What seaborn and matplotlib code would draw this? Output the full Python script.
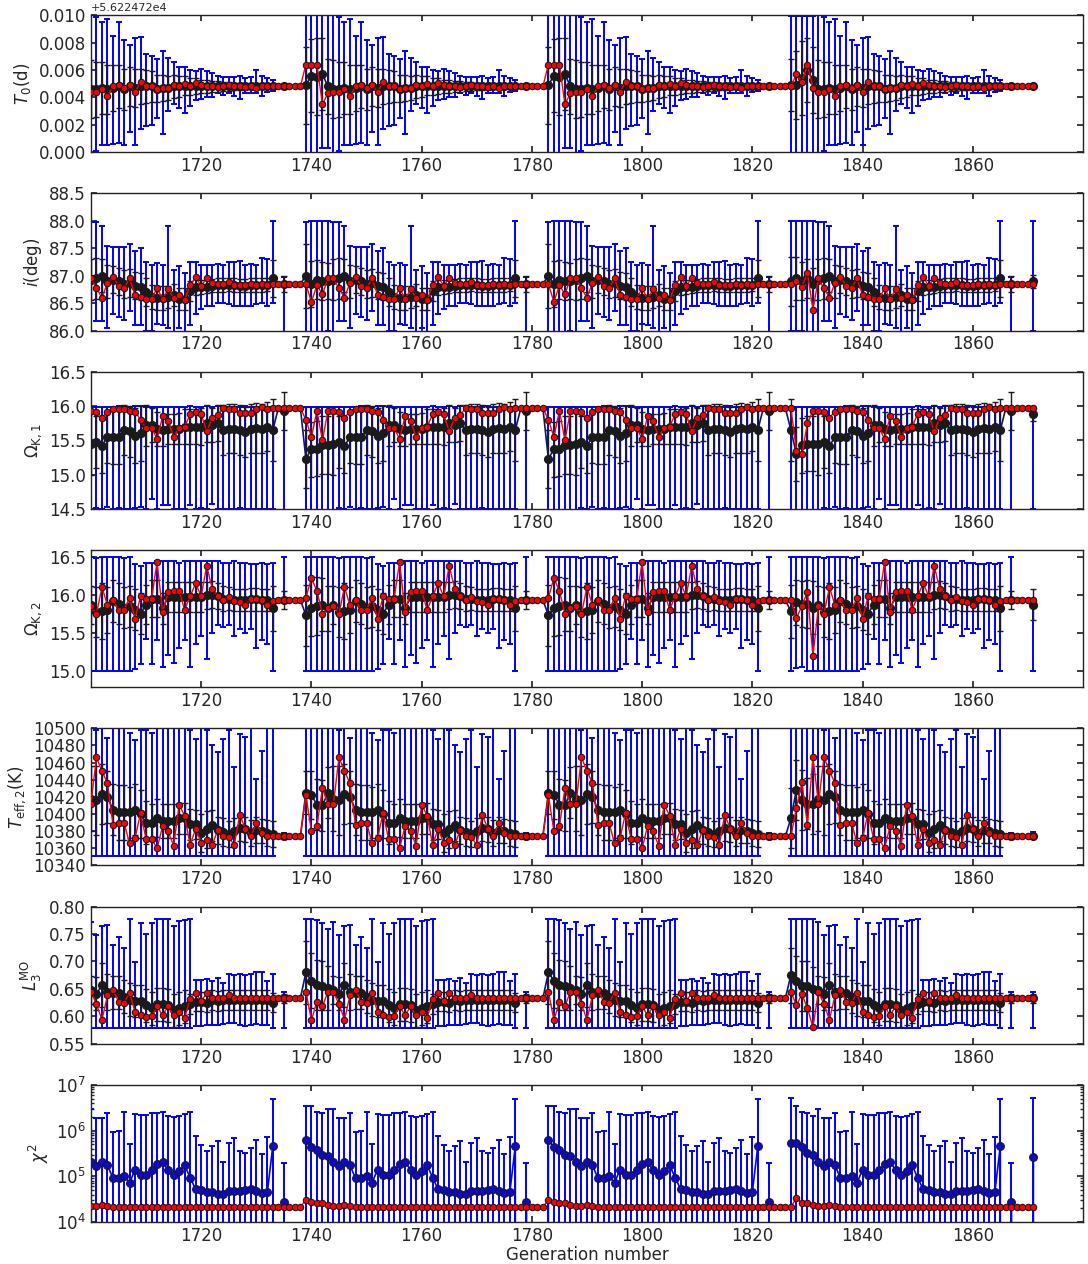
import numpy as np
import matplotlib
matplotlib.use("Agg")
import matplotlib.pyplot as plt
from matplotlib.ticker import ScalarFormatter
import seaborn as sns

nan = np.nan

# ---------------------------------------------------------------------------
# Generations: the optimiser is restarted at 1739, 1783 and 1827.  Every run
# is 44 generations long; the first run is shown from generation 1700 on.
# "late" = generations 5..43 of a run, "early_a" = generations 0..4 of the
# runs started at 1739/1783, "early_b" = generations 0..4 of the 1827 run,
# "end" = generation 1871.
# For every parameter: best = best individual, mean/sd = population mean and
# standard deviation, lo/hi = population minimum / maximum.
# ---------------------------------------------------------------------------
first_gen = 1700
last_gen = 1871

# T0 in units of 1e-3 d above t0_ref
t0_ref = 56224.72
t0_late_best = [4.4, 4.4, 4.6, 4.1,
                4.8, 4.9, 4.7, 4.9, 4.4, 5.1, 4.85, 4.8, 4.6, 4.7,
                4.7, 4.9, 4.8, 5.0, 4.8, 5.05, 4.9, 4.8, 4.8, 4.75,
                4.8, 4.9, 4.8, 4.8, 4.75, 4.8, 4.7, 4.8, 4.8, 4.8,
                4.8, 4.8, 4.8, 4.8, 4.8]
t0_late_mean = [4.6, 4.6, 4.7, 4.6,
                4.7, 4.8, 4.6, 4.8, 4.7, 4.8, 4.8, 4.8, 4.65, 4.7,
                4.7, 4.8, 4.8, 4.85, 4.8, 4.85, 4.8, 4.8, 4.8, 4.8,
                4.8, 4.8, 4.8, 4.8, 4.8, 4.8, 4.8, 4.8, 4.8, 4.8,
                nan, 4.8, nan, nan, nan]
t0_late_sd = [2.1, 2.0, 1.9, 1.8,
              1.7, 1.6, 1.5, 1.45, 1.4, 1.3, 1.2, 1.1, 1.0, 0.95,
              0.9, 0.85, 0.8, 0.7, 0.65, 0.6, 0.5, 0.45, 0.42, 0.4,
              0.36, 0.3, 0.28, 0.25, 0.22, 0.2, 0.18, 0.16, 0.14, 0.12,
              nan, 0.04, nan, nan, nan]
t0_late_lo = [-0.2, 0.1, 0.5, 0.5,
              0.6, 0.7, 0.5, 1.5, 0.5, 1.7, 1.9, 2.0, 2.5, 1.3,
              3.0, 3.5, 3.2, 2.9, 3.4, 3.8, 3.9, 4.0, 4.0, 4.3,
              4.2, 4.3, 4.1, 3.9, 4.3, 4.3, 4.3, 4.1, 4.4, 4.5,
              nan, 4.75, nan, nan, nan]
t0_late_hi = [10.2, 9.9, 9.5, 9.7,
              8.5, 9.5, 8.2, 7.8, 8.3, 8.4, 7.2, 7.0, 6.8, 7.4,
              6.9, 6.6, 6.2, 6.2, 6.0, 5.9, 6.1, 5.9, 5.8, 5.6,
              5.5, 5.5, 5.5, 5.6, 5.4, 5.5, 6.0, 5.6, 5.4, 5.3,
              nan, 4.85, nan, nan, nan]
t0_early_a_best = [6.4, 6.4, 6.4, 3.5, 4.3]
t0_early_a_mean = [4.9, 5.6, 5.5, 5.7, 4.8]
t0_early_a_sd = [2.8, 2.65, 2.8, 2.6, 2.0]
t0_early_a_lo = [-0.5, -0.5, -0.5, 0.3, 0.3]
t0_early_a_hi = [10.5, 10.5, 10.5, 10.3, 10.0]
t0_early_b_best = [4.8, 5.7, 5.1, 6.4, 4.7]
t0_early_b_mean = [4.9, 4.9, 5.4, 6.0, 5.3]
t0_early_b_sd = [1.9, 2.5, 2.7, 2.3, 2.4]
t0_early_b_lo = [-0.5, -0.5, -0.5, -0.5, -0.5]
t0_early_b_hi = [9.95, 9.95, 9.95, 9.95, 9.95]
t0_end = dict(best=4.8, mean=4.8, sd=0.05, lo=4.75, hi=4.85)

# inclination (deg)
inc_late_best = [86.95, 86.77, 86.6, 86.87,
                 86.98, 86.82, 86.77, 86.95, 86.65, 86.62, 86.58, 86.58, 86.77, 86.58,
                 86.75, 86.6, 86.65, 86.55, 86.83, 86.97, 86.82, 86.95, 86.87, 86.85,
                 86.85, 86.88, 86.84, 86.83, 86.83, 86.85, 86.83, 86.85, 86.84, 86.85,
                 86.85, 86.85, 86.85, 86.85, 86.85]
inc_late_mean = [86.93, 86.95, 87.0, 86.9,
                 86.93, 86.9, 86.85, 86.87, 86.82, 86.8, 86.7, 86.62, 86.6, 86.6,
                 86.62, 86.65, 86.58, 86.57, 86.72, 86.8, 86.8, 86.8, 86.82, 86.83,
                 86.83, 86.84, 86.83, 86.82, 86.82, 86.83, 86.83, 86.83, 86.84, 86.95,
                 nan, 86.85, nan, nan, nan]
inc_late_sd = [0.38, 0.38, 0.3, 0.3,
               0.25, 0.25, 0.25, 0.25, 0.25, 0.25, 0.25, 0.22, 0.22, 0.22,
               0.2, 0.2, 0.2, 0.2, 0.18, 0.15, 0.13, 0.12, 0.12, 0.12,
               0.12, 0.12, 0.12, 0.12, 0.12, 0.12, 0.12, 0.12, 0.12, 0.33,
               nan, 0.14, nan, nan, nan]
inc_late_lo = [85.97, 86.18, 86.17, 86.05,
               86.3, 86.25, 86.2, 86.35, 86.1, 86.1, 86.0, 86.0, 86.12, 86.1,
               86.05, 85.98, 86.05, 85.98, 86.1, 86.3, 86.4, 86.45, 86.45, 86.5,
               86.5, 86.48, 86.45, 86.45, 86.45, 86.45, 86.48, 86.5, 86.45, 86.5,
               nan, 85.97, nan, nan, nan]
inc_late_hi = [87.98, 87.98, 87.9, 87.55,
               87.52, 87.52, 87.52, 87.57, 87.45, 87.5, 87.25, 87.2, 87.23, 87.2,
               87.9, 87.1, 87.17, 87.05, 87.25, 87.25, 87.2, 87.2, 87.2, 87.22,
               87.2, 87.25, 87.25, 87.27, 87.2, 87.22, 87.2, 87.32, 87.3, 88.0,
               nan, 86.97, nan, nan, nan]
inc_early_a_best = [86.85, 86.52, 86.83, 86.66, 86.95]
inc_early_a_mean = [87.0, 86.85, 86.93, 86.9, 86.9]
inc_early_a_sd = [0.58, 0.42, 0.35, 0.35, 0.33]
inc_early_a_lo = [85.98, 85.9, 85.9, 85.95, 86.0]
inc_early_a_hi = [87.98, 88.0, 88.0, 88.0, 88.0]
inc_early_b_best = [86.85, 86.9, 86.8, 87.05, 86.38]
inc_early_b_mean = [86.9, 86.95, 86.9, 86.95, 86.85]
inc_early_b_sd = [0.45, 0.4, 0.35, 0.35, 0.3]
inc_early_b_lo = [86.0, 86.0, 86.0, 85.95, 85.95]
inc_early_b_hi = [88.0, 88.0, 88.0, 88.0, 88.0]
inc_end = dict(best=86.85, mean=86.9, sd=0.12, lo=86.0, hi=88.0)

# Omega_K,1
om1_late_best = [15.93, 15.92, 15.83, 15.92,
                 15.96, 15.96, 15.96, 15.93, 15.92, 15.8, 15.68, 15.68, 15.52, 15.85,
                 15.78, 15.55, 15.68, 15.7, 15.88, 15.92, 15.88, 15.63, 15.82, 15.87,
                 15.97, 15.96, 15.95, 15.9, 15.9, 15.9, 15.95, 15.99, 15.95, 15.97,
                 15.97, 15.97, 15.97, 15.97, 15.97]
om1_late_mean = [15.45, 15.47, 15.42, 15.55,
                 15.55, 15.55, 15.65, 15.63, 15.57, 15.6, 15.72, 15.72, 15.66, 15.65,
                 15.67, 15.67, 15.67, 15.7, 15.7, 15.7, 15.7, 15.75, 15.72, 15.75,
                 15.65, 15.67, 15.67, 15.65, 15.62, 15.67, 15.68, 15.67, 15.7, 15.65,
                 nan, 15.93, nan, nan, nan]
om1_late_sd = [0.45, 0.38, 0.39, 0.38,
               0.4, 0.4, 0.37, 0.37, 0.4, 0.4, 0.3, 0.25, 0.25, 0.23,
               0.22, 0.22, 0.23, 0.25, 0.25, 0.25, 0.27, 0.27, 0.25, 0.26,
               0.36, 0.36, 0.36, 0.36, 0.36, 0.36, 0.36, 0.36, 0.36, 0.45,
               nan, 0.28, nan, nan, nan]
om1_late_lo = [14.45, 14.52, 14.5, 14.53,
               14.5, 14.52, 14.5, 14.5, 14.52, 14.53, 14.5, 14.65, 14.5, 14.55,
               14.55, 14.5, 14.5, 14.5, 14.55, 14.5, 14.52, 14.5, 14.57, 14.5,
               14.5, 14.5, 14.5, 14.52, 14.5, 14.5, 14.5, 14.5, 14.5, 14.5,
               nan, 14.45, nan, nan, nan]
om1_late_hi = [15.98, 15.98, 15.98, 15.98,
               15.99, 16.0, 16.0, 15.99, 16.0, 16.0, 15.99, 15.99, 15.98, 15.99,
               15.99, 15.99, 15.99, 15.98, 16.0, 15.99, 15.99, 16.0, 15.99, 16.0,
               15.99, 15.99, 15.99, 15.99, 16.0, 15.99, 15.99, 15.99, 15.99, 15.99,
               nan, 15.99, nan, nan, nan]
om1_early_a_best = [15.8, 15.55, 15.93, 15.5, 15.93]
om1_early_a_mean = [15.23, 15.37, 15.38, 15.43, 15.43]
om1_early_a_sd = [0.42, 0.4, 0.4, 0.42, 0.42]
om1_early_a_lo = [14.45, 14.45, 14.45, 14.45, 14.45]
om1_early_a_hi = [15.99, 15.99, 15.99, 15.99, 15.99]
om1_early_b_best = [15.97, 15.35, 15.3, 15.75, 15.93]
om1_early_b_mean = [15.65, 15.3, 15.43, 15.45, 15.45]
om1_early_b_sd = [0.45, 0.4, 0.4, 0.4, 0.4]
om1_early_b_lo = [14.45, 14.45, 14.45, 14.45, 14.45]
om1_early_b_hi = [15.99, 15.99, 15.99, 15.99, 15.99]
om1_end = dict(best=15.97, mean=15.88, sd=0.1, lo=14.5, hi=15.99)

# Omega_K,2
om2_late_best = [15.85, 15.75, 16.1, 15.86,
                 15.93, 15.8, 15.8, 15.96, 15.68, 15.98, 15.95, 15.95, 16.43, 15.77,
                 16.03, 16.05, 16.05, 15.8, 15.98, 16.15, 15.98, 16.38, 16.08, 15.98,
                 15.93, 15.97, 15.92, 15.9, 15.87, 15.94, 15.95, 15.93, 15.87, 15.92,
                 15.93, 15.93, 15.93, 15.93, 15.93]
om2_late_mean = [15.87, 15.77, 15.78, 15.8,
                 15.92, 15.88, 15.83, 15.85, 15.8, 15.75, 15.87, 15.95, 15.95, 15.82,
                 15.97, 15.97, 15.97, 15.97, 15.97, 15.97, 15.97, 15.99, 16.0, 15.98,
                 15.95, 15.95, 15.93, 15.93, 15.93, 15.94, 15.94, 15.93, 15.93, 15.82,
                 nan, 15.93, nan, nan, nan]
om2_late_sd = [0.25, 0.33, 0.37, 0.3,
               0.28, 0.27, 0.27, 0.27, 0.27, 0.27, 0.26, 0.25, 0.25, 0.2,
               0.2, 0.2, 0.2, 0.2, 0.2, 0.2, 0.2, 0.18, 0.18, 0.17,
               0.17, 0.15, 0.15, 0.15, 0.15, 0.15, 0.15, 0.15, 0.15, 0.3,
               nan, 0.12, nan, nan, nan]
om2_late_lo = [15.0, 15.0, 15.0, 15.0,
               15.0, 15.0, 15.0, 15.0, 15.02, 15.08, 15.42, 15.08, 15.4, 15.05,
               15.2, 15.1, 15.3, 15.4, 15.05, 15.35, 15.45, 15.15, 15.5, 15.6,
               15.58, 15.6, 15.45, 15.55, 15.5, 15.55, 15.3, 15.4, 15.35, 15.0,
               nan, 15.92, nan, nan, nan]
om2_late_hi = [16.5, 16.48, 16.5, 16.5,
               16.5, 16.5, 16.48, 16.5, 16.4, 16.38, 16.42, 16.42, 16.45, 16.45,
               16.45, 16.45, 16.42, 16.45, 16.45, 16.45, 16.45, 16.45, 16.45, 16.45,
               16.42, 16.42, 16.45, 16.42, 16.42, 16.4, 16.4, 16.42, 16.4, 16.42,
               nan, 16.5, nan, nan, nan]
om2_early_a_best = [15.96, 16.22, 16.05, 15.75, 15.82]
om2_early_a_mean = [15.73, 15.83, 15.85, 15.87, 15.82]
om2_early_a_sd = [0.4, 0.38, 0.38, 0.35, 0.3]
om2_early_a_lo = [15.0, 15.0, 15.0, 15.0, 15.0]
om2_early_a_hi = [16.5, 16.5, 16.5, 16.5, 16.5]
om2_early_b_best = [15.93, 15.69, 15.85, 16.04, 15.19]
om2_early_b_mean = [15.78, 15.9, 15.88, 15.88, 15.83]
om2_early_b_sd = [0.35, 0.3, 0.3, 0.32, 0.35]
om2_early_b_lo = [15.0, 15.03, 15.05, 15.0, 15.0]
om2_early_b_hi = [16.5, 16.5, 16.5, 16.5, 16.5]
om2_end = dict(best=15.93, mean=15.87, sd=0.2, lo=15.0, hi=15.93)

# T_eff,2 (K)
teff_late_best = [10412, 10466, 10450, 10436,
                  10387, 10390, 10390, 10366, 10372, 10401, 10371, 10371, 10360, 10386,
                  10380, 10363, 10411, 10398, 10364, 10383, 10366, 10370, 10364, 10381,
                  10374, 10373, 10364, 10399, 10383, 10374, 10389, 10378, 10374, 10374,
                  10374, 10374, 10374, 10374, 10374]
teff_late_mean = [10418, 10416, 10423, 10420,
                  10405, 10402, 10402, 10402, 10405, 10400, 10390, 10390, 10395, 10392,
                  10392, 10392, 10395, 10395, 10388, 10388, 10378, 10382, 10387, 10381,
                  10379, 10377, 10380, 10384, 10382, 10378, 10381, 10380, 10378, 10377,
                  nan, 10374, nan, nan, nan]
teff_late_sd = [38, 40, 35, 30,
                30, 32, 32, 30, 30, 28, 25, 22, 22, 20,
                20, 20, 18, 18, 18, 17, 22, 22, 18, 16,
                16, 15, 15, 15, 15, 15, 15, 14, 15, 15,
                nan, 3, nan, nan, nan]
teff_late_lo = [10351, 10351, 10351, 10351,
                10351, 10351, 10351, 10351, 10351, 10351, 10351, 10351, 10351, 10351,
                10351, 10351, 10351, 10351, 10351, 10351, 10351, 10351, 10351, 10351,
                10351, 10351, 10351, 10351, 10351, 10351, 10351, 10351, 10351, 10351,
                nan, 10374, nan, nan, nan]
teff_late_hi = [10500, 10498, 10500, 10489,
                10500, 10500, 10500, 10495, 10486, 10498, 10498, 10495, 10500, 10500,
                10500, 10500, 10500, 10500, 10498, 10488, 10500, 10498, 10480, 10472,
                10487, 10498, 10455, 10493, 10490, 10500, 10441, 10474, 10500, 10500,
                nan, 10378, nan, nan, nan]
teff_early_a_best = [10422, 10380, 10386, 10430, 10412]
teff_early_a_mean = [10425, 10422, 10411, 10410, 10425]
teff_early_a_sd = [25, 28, 30, 30, 30]
teff_early_a_lo = [10351, 10351, 10351, 10351, 10351]
teff_early_a_hi = [10500, 10500, 10500, 10500, 10500]
teff_early_b_best = [10374, 10407, 10437, 10387, 10467]
teff_early_b_mean = [10395, 10428, 10416, 10412, 10412]
teff_early_b_sd = [35, 35, 35, 30, 35]
teff_early_b_lo = [10351, 10351, 10351, 10351, 10351]
teff_early_b_hi = [10500, 10500, 10500, 10500, 10500]
teff_end = dict(best=10374, mean=10374, sd=2, lo=10374, hi=10379)

# L_3^MO
l3_late_best = [0.645, 0.622, 0.594, 0.638,
                0.648, 0.627, 0.624, 0.643, 0.608, 0.603, 0.599, 0.600, 0.618, 0.602,
                0.618, 0.602, 0.607, 0.597, 0.632, 0.643, 0.628, 0.642, 0.633, 0.633,
                0.633, 0.638, 0.633, 0.633, 0.634, 0.633, 0.633, 0.633, 0.633, 0.633,
                0.633, 0.633, 0.633, 0.633, 0.633]
l3_late_mean = [0.648, 0.641, 0.657, 0.645,
                0.643, 0.643, 0.636, 0.63, 0.628, 0.628, 0.62, 0.615, 0.622, 0.622,
                0.62, 0.611, 0.615, 0.618, 0.622, 0.627, 0.627, 0.625, 0.63, 0.628,
                0.63, 0.63, 0.63, 0.63, 0.63, 0.63, 0.63, 0.63, 0.63, 0.625,
                nan, 0.633, nan, nan, nan]
l3_late_sd = [0.025, 0.03, 0.04, 0.033,
              0.03, 0.03, 0.03, 0.03, 0.03, 0.03, 0.03, 0.03, 0.03, 0.03,
              0.03, 0.03, 0.03, 0.03, 0.018, 0.018, 0.018, 0.018, 0.018, 0.018,
              0.018, 0.018, 0.018, 0.018, 0.018, 0.018, 0.018, 0.018, 0.018, 0.018,
              nan, 0.008, nan, nan, nan]
l3_late_lo = [0.578, 0.578, 0.578, 0.578,
              0.578, 0.578, 0.578, 0.578, 0.578, 0.578, 0.578, 0.578, 0.578, 0.578,
              0.578, 0.578, 0.578, 0.578, 0.578, 0.583, 0.582, 0.585, 0.585, 0.585,
              0.586, 0.588, 0.588, 0.585, 0.583, 0.585, 0.586, 0.585, 0.585, 0.578,
              nan, 0.578, nan, nan, nan]
l3_late_hi = [0.772, 0.749, 0.765, 0.767,
              0.73, 0.744, 0.725, 0.778, 0.699, 0.771, 0.75, 0.77, 0.778, 0.778,
              0.778, 0.765, 0.773, 0.775, 0.778, 0.666, 0.667, 0.668, 0.665, 0.67,
              0.66, 0.677, 0.676, 0.677, 0.675, 0.678, 0.68, 0.68, 0.665, 0.678,
              nan, 0.645, nan, nan, nan]
l3_early_a_best = [0.645, 0.593, 0.627, 0.618, 0.645]
l3_early_a_mean = [0.68, 0.665, 0.657, 0.656, 0.652]
l3_early_a_sd = [0.057, 0.05, 0.045, 0.045, 0.04]
l3_early_a_lo = [0.578, 0.578, 0.578, 0.578, 0.578]
l3_early_a_hi = [0.778, 0.778, 0.775, 0.77, 0.76]
l3_early_b_best = [0.645, 0.62, 0.64, 0.615, 0.58]
l3_early_b_mean = [0.675, 0.665, 0.655, 0.655, 0.65]
l3_early_b_sd = [0.05, 0.045, 0.045, 0.045, 0.04]
l3_early_b_lo = [0.578, 0.578, 0.578, 0.578, 0.578]
l3_early_b_hi = [0.778, 0.778, 0.778, 0.778, 0.778]
l3_end = dict(best=0.633, mean=0.633, sd=0.008, lo=0.578, hi=0.645)

# chi^2: best individual, population mean and mean + sd
chi_late_best = [2.2e4, 2.2e4, 2.4e4, 2.2e4,
                 2.1e4, 2.1e4, 2.1e4, 2.1e4, 2.1e4, 2.1e4, 2.1e4, 2.1e4, 2.1e4, 2.1e4,
                 2.1e4, 2.1e4, 2.1e4, 2.1e4, 2.1e4, 2.1e4, 2.1e4, 2.1e4, 2.1e4, 2.1e4,
                 2.1e4, 2.1e4, 2.1e4, 2.1e4, 2.1e4, 2.1e4, 2.1e4, 2.1e4, 2.1e4, 2.1e4,
                 2.1e4, 2.1e4, 2.1e4, 2.1e4, 2.1e4]
chi_late_mean = [2.1e5, 1.7e5, 2.1e5, 1.75e5,
                 9.0e4, 9.0e4, 1.0e5, 7.2e4, 1.4e5, 1.05e5, 1.05e5, 1.35e5, 1.85e5, 2.1e5,
                 1.35e5, 1.05e5, 1.3e5, 1.75e5, 9.3e4, 5.2e4, 4.9e4, 4.5e4, 4.6e4, 4.2e4,
                 4.1e4, 4.7e4, 4.8e4, 4.7e4, 4.9e4, 5.2e4, 4.8e4, 4.4e4, 4.5e4, 4.6e5,
                 0.0, 2.75e4, 0.0, 0.0, 0.0]
chi_late_hi = [3.0e6, 1.9e6, 1.9e6, 2.4e6,
               9.1e5, 1.0e6, 2.5e6, 5.2e5, 2.3e6, 2.2e6, 2.2e6, 2.4e6, 2.4e6, 2.6e6,
               2.1e6, 2.0e6, 2.1e6, 2.3e6, 2.5e6, 7.8e5, 4.8e5, 3.6e5, 4.6e5, 5.8e5,
               2.1e5, 5.4e5, 6.9e5, 3.5e5, 3.2e5, 4.1e5, 6.2e5, 3.1e5, 7.1e5, 4.9e6,
               nan, 1.95e5, nan, nan, nan]
chi_early_a_best = [3.1e4, 2.8e4, 2.6e4, 2.6e4, 2.35e4]
chi_early_a_mean = [6.2e5, 4.3e5, 3.7e5, 3.0e5, 2.8e5]
chi_early_a_hi = [3.5e6, 3.5e6, 2.6e6, 2.4e6, 2.9e6]
chi_early_b_best = [2.1e4, 3.4e4, 2.6e4, 2.6e4, 2.4e4]
chi_early_b_mean = [5.4e5, 5.4e5, 4.4e5, 3.2e5, 2.9e5]
chi_early_b_hi = [5.1e6, 3.5e6, 2.6e6, 2.4e6, 2.1e6]
chi_end = dict(best=2.1e4, mean=2.6e5, hi=5.1e6)


def series(late, early_a, early_b, end):
    late = np.asarray(late, float)
    early_a = np.asarray(early_a, float)
    early_b = np.asarray(early_b, float)
    return np.concatenate([late, early_a, late, early_a, late,
                           early_b, late, [end]])


gens = np.arange(first_gen, last_gen + 1)


def build(prefix, end, keys=("best", "mean", "sd", "lo", "hi")):
    g = globals()
    out = {}
    for k in keys:
        out[k] = series(g[f"{prefix}_late_{k}"], g[f"{prefix}_early_a_{k}"],
                        g[f"{prefix}_early_b_{k}"], end[k])
        assert len(out[k]) == len(gens), (prefix, k, len(out[k]))
    return out


panels = [
    ("t0", t0_end, r"$T_0$(d)", None, None),
    ("inc", inc_end, r"$i$(deg)", (86.0, 88.5), np.arange(86.0, 88.51, 0.5)),
    ("om1", om1_end, r"$\Omega_{\rm K,1}$", (14.5, 16.5), np.arange(14.5, 16.51, 0.5)),
    ("om2", om2_end, r"$\Omega_{\rm K,2}$", (14.78, 16.59), [15.0, 15.5, 16.0, 16.5]),
    ("teff", teff_end, r"$T_{\rm eff,2}$(K)", (10340, 10500), np.arange(10340, 10501, 20)),
    ("l3", l3_end, r"$L_3^{\rm MO}$", (0.55, 0.80), np.arange(0.55, 0.801, 0.05)),
]

BLUE = "#0000ff"
LINK = "#15155c"
CAP = 2.2

sns.set_theme(style="ticks", rc={
    "xtick.direction": "in", "ytick.direction": "in",
    "xtick.top": True, "ytick.right": True,
    "xtick.major.size": 4, "ytick.major.size": 4,
    "xtick.minor.size": 2, "ytick.minor.size": 2,
    "axes.linewidth": 1.0, "axes.edgecolor": "#222222",
    "font.size": 12, "xtick.labelsize": 12, "ytick.labelsize": 12,
    "axes.labelsize": 12,
})
plt.rcParams["font.family"] = ["DejaVu Sans"]
plt.rcParams["mathtext.fontset"] = "dejavusans"

fig, axes = plt.subplots(7, 1, figsize=(10.88, 12.64), dpi=100)
fig.subplots_adjust(left=0.0836, right=0.9954, top=0.988, bottom=0.0332, hspace=0.30)


def draw_population(ax, d, scale=1.0, shift=0.0):
    best = d["best"] * scale + shift
    mean = d["mean"] * scale + shift
    sd = d["sd"] * scale
    lo = d["lo"] * scale + shift
    hi = d["hi"] * scale + shift
    has = ~np.isnan(mean)
    x = gens[has]
    m = mean[has]
    ax.errorbar(x, m, yerr=[np.clip(m - lo[has], 0, None), np.clip(hi[has] - m, 0, None)],
                fmt="none", ecolor=BLUE, elinewidth=1.4, capsize=CAP, capthick=1.4, zorder=2)
    ax.errorbar(x, m, yerr=sd[has], fmt="none", ecolor="k", elinewidth=1.0,
                capsize=CAP, capthick=1.0, zorder=3)
    path = np.where(has, mean, best)
    ax.plot(gens, path, color=LINK, lw=1.2, zorder=3)
    ax.plot(x, m, "o", color="k", ms=5.6, mec="k", zorder=4)
    sns.lineplot(x=gens, y=best, ax=ax, color="red", lw=1.0, marker="o",
                 markersize=4.6, markeredgecolor="k", markeredgewidth=0.8,
                 markerfacecolor="red", estimator=None, sort=False, zorder=5)


for ax, (prefix, end, label, ylim, yticks) in zip(axes[:6], panels):
    d = build(prefix, end)
    if prefix == "t0":
        draw_population(ax, d, scale=1e-3, shift=t0_ref)
        ax.set_ylim(t0_ref, t0_ref + 0.010)
        ax.set_yticks(t0_ref + np.arange(0, 0.0101, 0.002))
        fmt = ScalarFormatter(useOffset=t0_ref)
        ax.yaxis.set_major_formatter(fmt)
        ax.yaxis.get_offset_text().set_fontsize(8)
    else:
        draw_population(ax, d)
        ax.set_ylim(*ylim)
        ax.set_yticks(yticks)
    ax.set_ylabel(label)

# chi^2 panel
ax = axes[6]
ax.set_yscale("log")
chi = build("chi", chi_end, keys=("best", "mean", "hi"))
bar = ~np.isnan(chi["hi"])
cm = chi["mean"][bar]
ax.errorbar(gens[bar], cm, yerr=[cm * 0.9999, chi["hi"][bar] - cm], fmt="none",
            ecolor=BLUE, elinewidth=1.4, capsize=CAP, capthick=1.4, zorder=2)
ax.plot(gens, chi["mean"], color=BLUE, lw=1.2, marker="o", ms=5.6,
        mfc="#0a0ad0", mec="k", mew=0.8, zorder=3)
sns.lineplot(x=gens, y=chi["best"], ax=ax, color="red", lw=1.0, marker="o",
             markersize=4.6, markeredgecolor="k", markeredgewidth=0.8,
             markerfacecolor="red", estimator=None, sort=False, zorder=5)
ax.set_ylim(1e4, 1e7)
ax.set_ylabel(r"$\chi^2$")
ax.set_xlabel("Generation number", labelpad=1)

for ax in axes:
    ax.set_xlim(1700, 1880)
    ax.set_xticks(np.arange(1720, 1861, 20))
    ax.tick_params(which="both", direction="in", top=True, right=True)
    for s in ax.spines.values():
        s.set_visible(True)

fig.savefig("out.png", dpi=100)
